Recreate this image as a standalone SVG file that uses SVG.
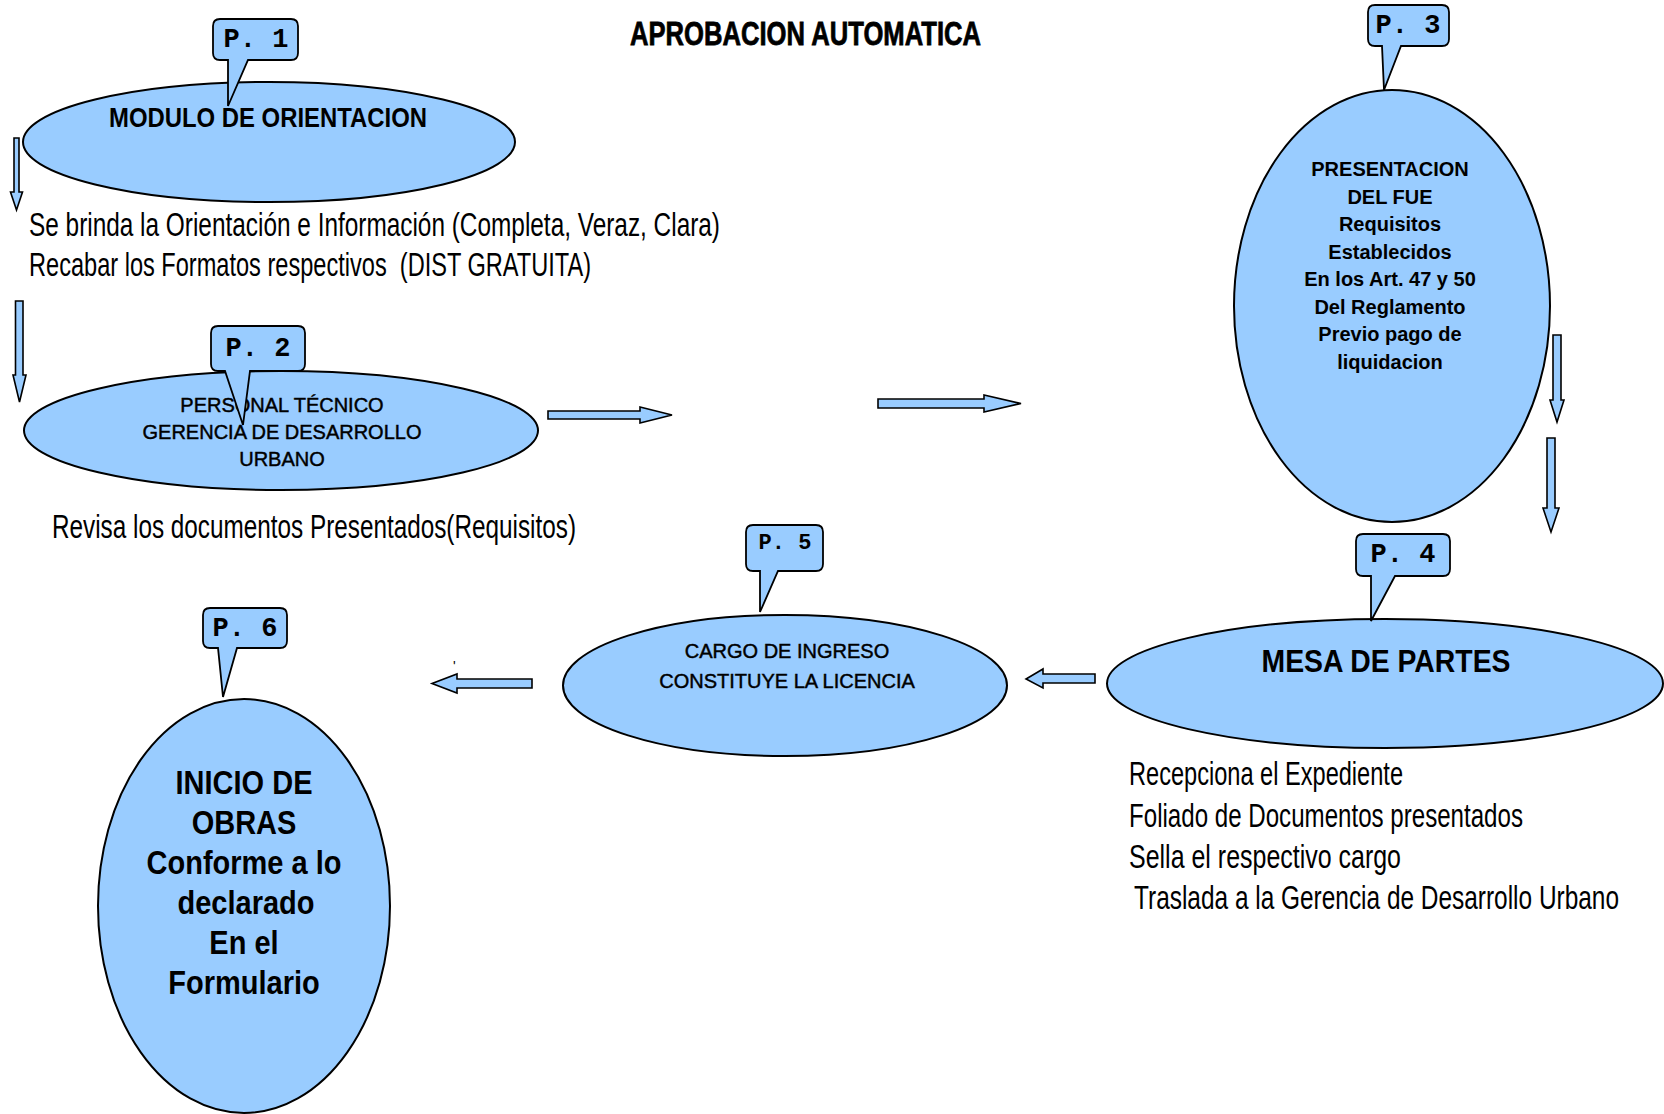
<svg xmlns="http://www.w3.org/2000/svg" width="1664" height="1114" viewBox="0 0 1664 1114">
<style>
.shape{fill:#99ccff;stroke:#000;stroke-width:2}
.arrow{fill:#99ccff;stroke:#000;stroke-width:1.6}
.tag{fill:#99ccff;stroke:#000;stroke-width:1.8}
.tagtxt{font-family:"Liberation Mono","Courier New",monospace;font-weight:bold;fill:#000;text-anchor:middle}
.lbl{font-family:"Liberation Sans",Arial,sans-serif;fill:#000;text-anchor:middle}
.b{font-weight:bold}
.med{stroke:#000;stroke-width:0.45}
.note{font-family:"Liberation Sans",Arial,sans-serif;fill:#000;white-space:pre}
.title{font-family:"Liberation Sans",Arial,sans-serif;font-weight:bold;fill:#000;stroke:#000;stroke-width:0.6}
</style>
<rect width="1664" height="1114" fill="#fff"/>
<text class="title" transform="translate(630,45) scale(1,1.25)" font-size="26" textLength="351" lengthAdjust="spacingAndGlyphs">APROBACION AUTOMATICA</text>

<g id="connectors">
<polygon class="arrow" points="14,138 19,138 19,192 22.5,192 16.5,210 10.5,192 14,192"/>
<polygon class="arrow" points="15.5,301 23,301 23,375 26,375 19.5,402 13,375 15.5,375"/>
<polygon class="arrow" points="548,411 640,411 640,407 672,415 640,423 640,419 548,419"/>
<polygon class="arrow" points="878,399 984,399 984,395 1021,403.5 984,412 984,408 878,408"/>
<polygon class="arrow" points="1553,335 1561,335 1561,400 1564,400 1557,422 1550,400 1553,400"/>
<polygon class="arrow" points="1547,438 1555,438 1555,508 1559,508 1551,532 1543,508 1547,508"/>
<polygon class="arrow" points="1095,674 1043,674 1043,669 1026,679 1043,688 1043,683 1095,683"/>
<polygon class="arrow" points="532,679 457,679 457,674 432,683.5 457,693 457,688 532,688"/>
</g>

<g id="node-modulo">
<ellipse class="shape" cx="269" cy="142" rx="246" ry="60"/>
<text class="lbl b" x="268" y="127" font-size="27" textLength="318" lengthAdjust="spacingAndGlyphs">MODULO DE ORIENTACION</text>
</g>
<g id="note-modulo">
<text class="note" transform="translate(29,236) scale(1,1.38)" font-size="24" textLength="691" lengthAdjust="spacingAndGlyphs">Se brinda la Orientación e Información (Completa, Veraz, Clara)</text>
<text class="note" transform="translate(29,276) scale(1,1.38)" font-size="24" textLength="562" lengthAdjust="spacingAndGlyphs">Recabar los Formatos respectivos  (DIST GRATUITA)</text>
</g>

<g id="node-personal">
<ellipse class="shape" cx="281" cy="430.5" rx="257" ry="59.5"/>
<text class="lbl med" x="282" y="412" font-size="20">PERSONAL TÉCNICO</text>
<text class="lbl med" x="282" y="439" font-size="20">GERENCIA DE DESARROLLO</text>
<text class="lbl med" x="282" y="466" font-size="20">URBANO</text>
</g>
<g id="note-personal">
<text class="note" transform="translate(52,538) scale(1,1.38)" font-size="24" textLength="524" lengthAdjust="spacingAndGlyphs">Revisa los documentos Presentados(Requisitos)</text>
</g>

<g id="node-presentacion">
<ellipse class="shape" cx="1392" cy="306" rx="158" ry="216"/>
<text class="lbl b" x="1390" font-size="20"><tspan x="1390" y="176">PRESENTACION</tspan><tspan x="1390" y="203.5">DEL FUE</tspan><tspan x="1390" y="231">Requisitos</tspan><tspan x="1390" y="258.5">Establecidos</tspan><tspan x="1390" y="286">En los Art. 47 y 50</tspan><tspan x="1390" y="313.5">Del Reglamento</tspan><tspan x="1390" y="341">Previo pago de</tspan><tspan x="1390" y="368.5">liquidacion</tspan></text>
</g>

<g id="node-mesa">
<ellipse class="shape" cx="1385" cy="683.5" rx="278" ry="64.5"/>
<text class="lbl b" x="1386" y="672" font-size="31" textLength="249" lengthAdjust="spacingAndGlyphs">MESA DE PARTES</text>
</g>
<g id="note-mesa">
<text class="note" transform="translate(1129,785) scale(1,1.38)" font-size="24" textLength="274" lengthAdjust="spacingAndGlyphs">Recepciona el Expediente</text>
<text class="note" transform="translate(1129,827) scale(1,1.38)" font-size="24" textLength="394" lengthAdjust="spacingAndGlyphs">Foliado de Documentos presentados</text>
<text class="note" transform="translate(1129,868) scale(1,1.38)" font-size="24" textLength="272" lengthAdjust="spacingAndGlyphs">Sella el respectivo cargo</text>
<text class="note" transform="translate(1134,909) scale(1,1.38)" font-size="24" textLength="485" lengthAdjust="spacingAndGlyphs">Traslada a la Gerencia de Desarrollo Urbano</text>
</g>

<g id="node-cargo">
<ellipse class="shape" cx="785" cy="685.5" rx="222" ry="70.5"/>
<text class="lbl med" x="787" y="658" font-size="20">CARGO DE INGRESO</text>
<text class="lbl med" x="787" y="688" font-size="20">CONSTITUYE LA LICENCIA</text>
</g>
<text x="453" y="671" font-family="Liberation Sans, sans-serif" font-size="14">'</text>

<g id="node-inicio">
<ellipse class="shape" cx="244" cy="906" rx="146" ry="207"/>
<text class="lbl b" transform="translate(244,794) scale(1,1.15)" font-size="29">INICIO DE</text>
<text class="lbl b" transform="translate(244,834) scale(1,1.15)" font-size="29">OBRAS</text>
<text class="lbl b" transform="translate(244,874) scale(1,1.15)" font-size="29">Conforme a lo</text>
<text class="lbl b" transform="translate(246,914) scale(1,1.15)" font-size="29">declarado</text>
<text class="lbl b" transform="translate(244,954) scale(1,1.15)" font-size="29">En el</text>
<text class="lbl b" transform="translate(244,994) scale(1,1.15)" font-size="29">Formulario</text>
</g>

<g id="tag-p1">
<path class="tag" d="M220,19 H291 Q298,19 298,26 V53 Q298,60 291,60 H248 L228,106 L228,60 H220 Q213,60 213,53 V26 Q213,19 220,19 Z"/>
<text class="tagtxt" x="256" y="47" font-size="27">P. 1</text>
</g>
<g id="tag-p2">
<path class="tag" d="M218,326 H298 Q305,326 305,333 V364 Q305,371 298,371 H250 L243,425 L225,371 H218 Q211,371 211,364 V333 Q211,326 218,326 Z"/>
<text class="tagtxt" x="258" y="356" font-size="27">P. 2</text>
</g>
<g id="tag-p3">
<path class="tag" d="M1375,5 H1442 Q1449,5 1449,12 V39 Q1449,46 1442,46 H1401 L1384,90 L1382,46 H1375 Q1368,46 1368,39 V12 Q1368,5 1375,5 Z"/>
<text class="tagtxt" x="1408" y="33" font-size="27">P. 3</text>
</g>
<g id="tag-p4">
<path class="tag" d="M1363,534 H1443 Q1450,534 1450,541 V569 Q1450,576 1443,576 H1395 L1371,621 L1371,576 H1363 Q1356,576 1356,569 V541 Q1356,534 1363,534 Z"/>
<text class="tagtxt" x="1403" y="562" font-size="27">P. 4</text>
</g>
<g id="tag-p5">
<path class="tag" d="M753,525 H816 Q823,525 823,532 V564 Q823,571 816,571 H778 L760,612 L760,571 H753 Q746,571 746,564 V532 Q746,525 753,525 Z"/>
<text class="tagtxt" x="785" y="549" font-size="22">P. 5</text>
</g>
<g id="tag-p6">
<path class="tag" d="M210,608 H280 Q287,608 287,615 V641 Q287,648 280,648 H237 L223,697 L218,648 H210 Q203,648 203,641 V615 Q203,608 210,608 Z"/>
<text class="tagtxt" x="245" y="636" font-size="27">P. 6</text>
</g>
</svg>
